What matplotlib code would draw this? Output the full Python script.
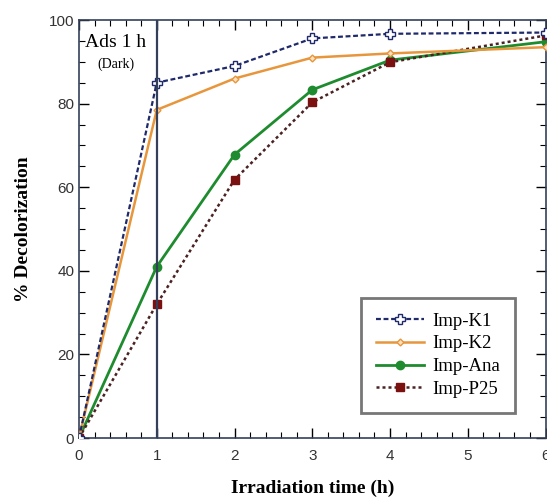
import matplotlib
matplotlib.use("Agg")
import matplotlib.pyplot as plt
from matplotlib.ticker import MultipleLocator

time_h = [0, 1, 2, 3, 4, 6]
imp_k1 = [0, 85, 89, 95.6, 96.7, 97]
imp_k2 = [0, 78.5, 86, 91, 92, 93.5]
imp_ana = [0, 41, 67.8, 83.3, 90.4, 94.8]
imp_p25 = [0, 32, 61.8, 80.3, 89.9, 96.3]

serif = ["Liberation Serif", "DejaVu Serif"]
sans = ["Liberation Sans", "DejaVu Sans"]

fig = plt.figure(figsize=(5.47, 5.0), dpi=100)
ax = fig.add_axes([0.1444, 0.124, 0.853, 0.836])

ax.plot(time_h, imp_k1, color="#1f2a6b", lw=1.6, ls=(0, (2.2, 1.2)),
        marker="P", ms=6.5, mfc="white", mec="#1f2a6b", mew=1.0, label="Imp-K1", zorder=5)
ax.plot(time_h, imp_k2, color="#e8963c", lw=1.8, ls="-",
        marker="D", ms=3.5, mfc="#f8e0c0", mec="#e8963c", mew=1.0, label="Imp-K2", zorder=4)
ax.plot(time_h, imp_ana, color="#1e8c2e", lw=2.0, ls="-",
        marker="o", ms=6, mfc="#1e8c2e", mec="#1e8c2e", label="Imp-Ana", zorder=3)
ax.plot(time_h, imp_p25, color="#4a2222", lw=1.8, ls=(0, (1.2, 1.2)),
        marker="s", ms=6, mfc="#7a1010", mec="#7a1010", label="Imp-P25", zorder=3)

ax.axvline(1, color="#34405a", lw=1.6, zorder=6)

ax.text(0.47, 94.5, "Ads 1 h", family=serif, fontsize=14, ha="center", va="center")
ax.text(0.47, 89.5, "(Dark)", family=serif, fontsize=10, ha="center", va="center")

ax.set_xlim(0, 6)
ax.set_ylim(0, 100)
ax.xaxis.set_major_locator(MultipleLocator(1))
ax.xaxis.set_minor_locator(MultipleLocator(0.2))
ax.yaxis.set_major_locator(MultipleLocator(20))
ax.yaxis.set_minor_locator(MultipleLocator(5))
ax.tick_params(which="both", direction="in", top=True, right=True)
ax.tick_params(which="major", length=7, width=1)
ax.tick_params(which="minor", length=4, width=0.8)
ax.tick_params(axis="x", pad=8)
for lab in ax.get_xticklabels() + ax.get_yticklabels():
    lab.set_family(sans)
    lab.set_fontsize(11)
    lab.set_color("#333333")

for s in ax.spines.values():
    s.set_color("#34405a")
    s.set_linewidth(1.2)

ax.set_xlabel("Irradiation time (h)", family=serif, fontsize=14, fontweight="bold", labelpad=12)
ax.set_ylabel("% Decolorization", family=serif, fontsize=14, fontweight="bold", labelpad=12)

leg = ax.legend(loc="lower right", bbox_to_anchor=(0.934, 0.06), prop={"family": serif, "size": 13.5},
                fancybox=False, edgecolor="#777777", framealpha=1, handlelength=2.6,
                borderpad=0.8, labelspacing=0.3, handletextpad=0.4, borderaxespad=0)
leg.get_frame().set_linewidth(2)

fig.savefig("out.png", dpi=100)
